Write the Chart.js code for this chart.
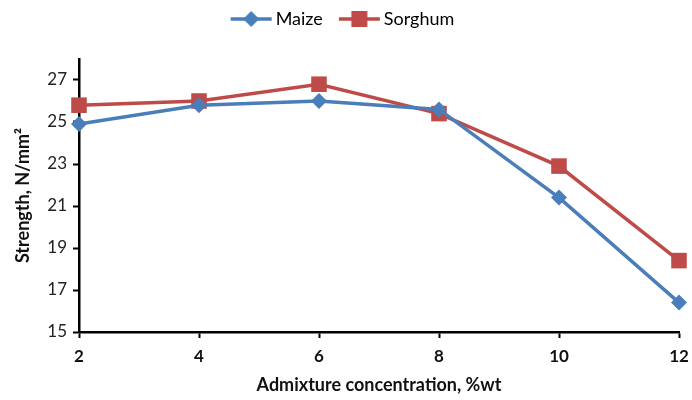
<!DOCTYPE html>
<html><head><meta charset="utf-8">
<script src="https://cdn.jsdelivr.net/npm/chart.js@4/dist/chart.umd.min.js"></script>
<style>html,body{margin:0;padding:0;background:#fff}#wrap{width:692px;height:400px}</style>
</head><body><div id="wrap"><canvas id="c" width="692" height="400"></canvas></div>
<script>
const concentrations = [2, 4, 6, 8, 10, 12];
const maize = [24.9, 25.8, 26.0, 25.6, 21.4, 16.4];
const sorghum = [25.8, 26.0, 26.8, 25.4, 22.9, 18.4];
const yTicks = [15, 17, 19, 21, 23, 25, 27];
const seriesNames = ['Maize', 'Sorghum'];

const BLUE = '#4A7EBB', RED = '#BE4B48';
const FONT = 'Lato, "Open Sans", sans-serif';

function legendIcon(color, shape) {
  const cv = document.createElement('canvas');
  cv.width = 54; cv.height = 16;
  const g = cv.getContext('2d');
  g.strokeStyle = color; g.lineWidth = 3.5;
  g.beginPath(); g.moveTo(12, 8); g.lineTo(53, 8); g.stroke();
  g.fillStyle = color;
  const c = 32.5;
  if (shape === 'd') {
    g.beginPath(); g.moveTo(c, 0); g.lineTo(c + 8, 8); g.lineTo(c, 16); g.lineTo(c - 8, 8); g.closePath(); g.fill();
  } else {
    g.fillRect(c - 8, 0, 16, 16);
  }
  return cv;
}
const icons = [legendIcon(BLUE, 'd'), legendIcon(RED, 's')];

const toXY = arr => arr.map((v, i) => ({x: concentrations[i], y: v}));

const legendHeight = {
  id: 'legendHeight',
  afterInit(chart) {
    const lg = chart.legend;
    if (!lg) return;
    const origFit = lg.fit;
    lg.fit = function () { origFit.call(this); this.height = 59; };
  }
};

new Chart(document.getElementById('c'), {
  type: 'line',
  plugins: [legendHeight],
  data: {
    datasets: [
      {label: seriesNames[0], data: toXY(maize), borderColor: BLUE, backgroundColor: BLUE,
       borderWidth: 3.5, pointStyle: 'rectRot', pointRadius: 8, pointBorderWidth: 0, tension: 0, clip: false},
      {label: seriesNames[1], data: toXY(sorghum), borderColor: RED, backgroundColor: RED,
       borderWidth: 3.5, pointStyle: 'rect', pointRadius: 11, pointBorderWidth: 0, tension: 0, clip: false}
    ]
  },
  options: {
    responsive: false, animation: false,
    layout: {padding: {left: 0, right: 13, top: 0, bottom: 0}},
    plugins: {
      tooltip: {enabled: false},
      legend: {
        position: 'top',
        labels: {
          usePointStyle: true, pointStyleWidth: 42, font: {family: FONT, size: 18}, color: '#1a1a1a', padding: 10,
          generateLabels: chart => chart.data.datasets.map((ds, i) => ({
            text: ds.label, pointStyle: icons[i], fillStyle: ds.borderColor,
            strokeStyle: ds.borderColor, lineWidth: 0, datasetIndex: i, hidden: false
          }))
        }
      }
    },
    scales: {
      x: {
        type: 'linear', min: 2, max: 12,
        ticks: {stepSize: 2, font: {family: FONT, size: 17, weight: 'bold'}, color: '#111', padding: 8},
        grid: {display: true, drawOnChartArea: false, tickLength: 6, tickColor: '#000', tickWidth: 2},
        border: {color: '#000', width: 2.5},
        title: {display: true, text: 'Admixture concentration, %wt', font: {family: FONT, size: 18, weight: 'bold'}, color: '#111', padding: {top: 10, bottom: 4}},
        afterFit: s => { s.height = 68; s.paddingRight = 0; s.paddingLeft = 0; }
      },
      y: {
        min: 15, max: 28,
        afterBuildTicks: s => { s.ticks = yTicks.map(v => ({value: v})); },
        ticks: {font: {family: FONT, size: 17}, color: '#222', padding: 6},
        grid: {display: true, drawOnChartArea: false, tickLength: 6, tickColor: '#000', tickWidth: 2},
        border: {color: '#000', width: 2.5},
        title: {display: true, text: 'Strength, N/mm²', font: {family: FONT, size: 18, weight: 'bold'}, color: '#111', padding: {top: 12, bottom: 4}},
        afterFit: s => { s.width = 79; }
      }
    }
  }
});
</script></body></html>
